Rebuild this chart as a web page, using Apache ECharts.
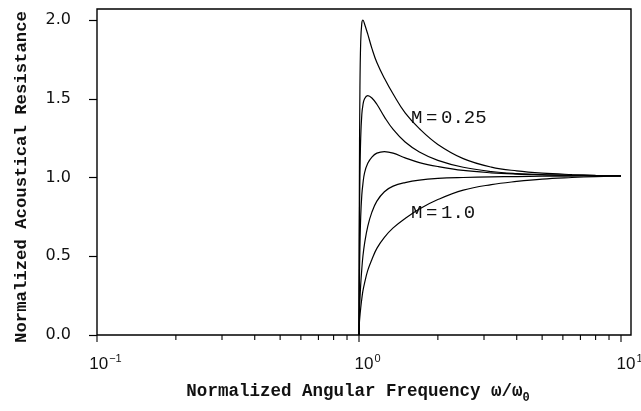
<!DOCTYPE html>
<html>
<head>
<meta charset="utf-8">
<script src="https://cdn.jsdelivr.net/npm/echarts@6/dist/echarts.min.js"></script>
<style>
html,body{margin:0;padding:0;background:#fff;}
#c{width:641px;height:411px;}
</style>
</head>
<body>
<div id="c"></div>
<script>
// Normalized angular frequency samples (omega / omega0); below 1 the resistance is 0 (on the axis)
var freq = [1.0, 1.003, 1.008, 1.015, 1.025, 1.035, 1.05, 1.08, 1.12, 1.17, 1.25, 1.35, 1.5, 1.7, 2.0, 2.5, 3.2, 4.0, 5.0, 6.5, 8.0, 10];
// Normalized acoustical resistance
var curveM025 = [0, 0.90, 1.55, 1.86, 1.98, 2.00, 1.975, 1.91, 1.82, 1.73, 1.63, 1.53, 1.41, 1.31, 1.21, 1.12, 1.066, 1.042, 1.028, 1.019, 1.014, 1.011];
var curveB    = [0, 0.60, 1.00, 1.25, 1.40, 1.46, 1.50, 1.52, 1.505, 1.465, 1.385, 1.305, 1.225, 1.162, 1.109, 1.065, 1.038, 1.025, 1.018, 1.014, 1.012, 1.011];
var curveC    = [0, 0.30, 0.55, 0.75, 0.89, 0.96, 1.03, 1.09, 1.13, 1.155, 1.165, 1.155, 1.125, 1.095, 1.07, 1.045, 1.03, 1.022, 1.017, 1.013, 1.011, 1.01];
var curveD    = [0, 0.12, 0.22, 0.32, 0.42, 0.50, 0.58, 0.69, 0.78, 0.85, 0.91, 0.945, 0.968, 0.984, 0.994, 1.0, 1.004, 1.006, 1.008, 1.009, 1.01, 1.01];
var curveM100 = [0, 0.07, 0.12, 0.17, 0.23, 0.28, 0.33, 0.41, 0.48, 0.55, 0.62, 0.68, 0.74, 0.80, 0.86, 0.92, 0.955, 0.975, 0.99, 1.0, 1.006, 1.01];
var curves = [curveM025, curveB, curveC, curveD, curveM100];
// Axis ticks / labels
var xMajor = [0.1, 1, 10];
var xMinor = [0.2, 0.3, 0.4, 0.5, 0.6, 0.7, 0.8, 0.9, 2, 3, 4, 5, 6, 7, 8, 9];
var xLabelBase = '10';
var xLabelExp = {'0.1': '\u22121', '1': '0', '10': '1'};
var yTicks = [0, 0.5, 1.0, 1.5, 2.0];
var xTitle = 'Normalized Angular Frequency \u03C9/\u03C9';
var xTitleSub = '0';
var yTitle = 'Normalized Acoustical Resistance';
var curveLabels = [['M', '=', '0.25'], ['M', '=', '1.0']];

var chart = echarts.init(document.getElementById('c'), null, {renderer: 'canvas'});
var MONO = '"Liberation Mono", "DejaVu Sans Mono", monospace';
var SANS = '"Liberation Sans", "DejaVu Sans", sans-serif';

function pairs(vals) {
  return freq.map(function (f, i) { return [f, vals[i]]; });
}
function tickSeries(values, len) {
  return {
    type: 'custom', xAxisIndex: 0, yAxisIndex: 0, clip: false, silent: true,
    data: values.map(function (v) { return [v, 0]; }),
    renderItem: function (params, api) {
      var p = api.coord([api.value(0), api.value(1)]);
      return {type: 'line', shape: {x1: p[0], y1: p[1], x2: p[0], y2: p[1] + len},
        style: {stroke: '#000', lineWidth: 1.1}};
    }
  };
}
function labelRich(parts) {
  return '{a|' + parts[0] + '}{s| }{a|' + parts[1] + '}{s| }{a|' + parts[2] + '}';
}
var labelRichStyle = {
  a: {font: '19px ' + MONO, fill: '#111'},
  s: {font: '6px ' + MONO, fill: '#111'}
};

var series = curves.map(function (c) {
  return {
    type: 'line', xAxisIndex: 0, data: pairs(c), showSymbol: false, symbol: 'none',
    smooth: 0.4,
    lineStyle: {color: '#000', width: 1.2}
  };
});
series.push(tickSeries(xMajor, 7));
series.push(tickSeries(xMinor, 5));

var option = {
  animation: false,
  backgroundColor: '#fff',
  grid: {left: 97, right: 20, top: 9, bottom: 76, show: false, containLabel: false, outerBoundsMode: 'none'},
  xAxis: {
    type: 'log', logBase: 10, min: 0.1, max: 10,
    axisLine: {show: false},
    axisTick: {show: false},
    axisLabel: {show: true, customValues: xMajor, align: 'center', margin: 18,
      formatter: function (v) {
        var k = String(Math.round(v * 10) / 10);
        return xLabelExp[k] !== undefined ? '{w| }{b|' + xLabelBase + '}{s|' + xLabelExp[k] + '}' : '';
      },
      rich: {
        w: {fontFamily: SANS, fontSize: 17, width: 17, lineHeight: 20, verticalAlign: 'bottom'},
        b: {fontFamily: SANS, fontSize: 17, color: '#111', verticalAlign: 'bottom', lineHeight: 20},
        s: {fontFamily: SANS, fontSize: 11, color: '#111', verticalAlign: 'bottom', lineHeight: 20, padding: [0, 0, 9, 1]}
      }
    },
    splitLine: {show: false}
  },
  yAxis: {
    type: 'value', min: 0, max: 2.07, interval: 0.5,
    axisLine: {show: false},
    axisTick: {show: true, inside: false, length: 8, customValues: yTicks, lineStyle: {color: '#000', width: 1.2}},
    axisLabel: {show: true, customValues: yTicks, margin: 26,
      formatter: function (v) { return v.toFixed(1); },
      fontFamily: '"DejaVu Sans", sans-serif', fontSize: 16, color: '#111'},
    splitLine: {show: false}
  },
  series: series,
  graphic: [
    {type: 'rect', silent: true, z: 10,
      shape: {x: 97, y: 9, width: 534, height: 326}, style: {fill: 'none', stroke: '#000', lineWidth: 1.4}},
    {type: 'text', x: 22, y: 177, rotation: Math.PI / 2,
      style: {text: yTitle, font: 'bold 17.3px ' + MONO, fill: '#111', align: 'center', verticalAlign: 'middle'}},
    {type: 'text', x: 358, y: 391,
      style: {text: '{t|' + xTitle + '}{u|' + xTitleSub + '}', align: 'center', verticalAlign: 'middle',
        rich: {
          t: {font: 'bold 17.5px ' + MONO, fill: '#111', verticalAlign: 'bottom', lineHeight: 20},
          u: {font: 'bold 12px ' + MONO, fill: '#111', verticalAlign: 'bottom', lineHeight: 20, padding: [0, 0, -3, 0]}
        }}},
    {type: 'text', x: 411, y: 118, style: {text: labelRich(curveLabels[0]), verticalAlign: 'middle', rich: labelRichStyle}},
    {type: 'text', x: 411, y: 213, style: {text: labelRich(curveLabels[1]), verticalAlign: 'middle', rich: labelRichStyle}}
  ]
};
chart.setOption(option);
</script>
</body>
</html>
